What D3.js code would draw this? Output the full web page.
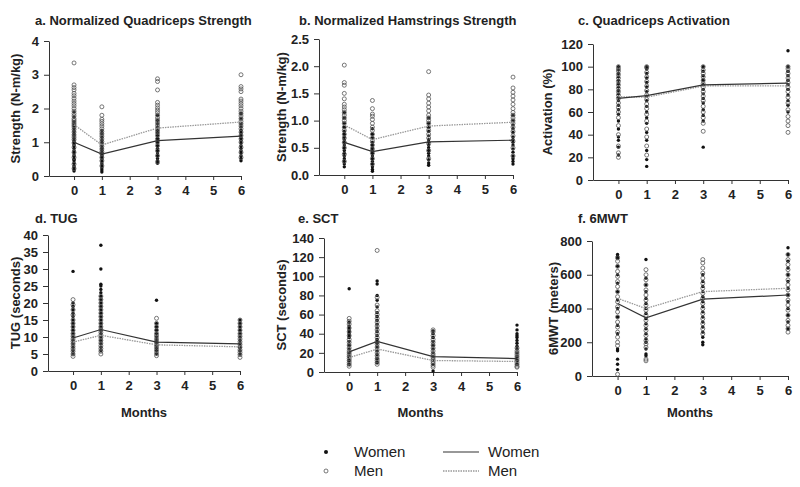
<!DOCTYPE html>
<html>
<head>
<meta charset="utf-8">
<script src="https://cdn.jsdelivr.net/npm/d3@7"></script>
<style>
  body { margin: 0; background: #fff; }
  svg { font-family: "Liberation Sans", Arial, sans-serif; }
  .tick text { font-weight: bold; font-size: 13px; fill: #222; }
  .domain, .tick line { stroke: #333; }
</style>
</head>
<body>
<svg id="chart" width="800" height="487"></svg>
<script>
// visit months on the x axis
var months = [0, 1, 3, 6];
var xTicks = [0, 1, 2, 3, 4, 5, 6];

// a. quadriceps strength (N-m/kg) -- one list per visit
var quadWomen = [
  [0.15,0.2,0.25,0.3,0.38,0.45,0.5,0.58,0.62,0.7,0.75,0.82,0.9,0.95,1.0,1.05,1.12,1.2,1.25,1.32,1.4,1.48,1.55,1.62,1.75,1.9],
  [0.12,0.18,0.24,0.3,0.36,0.42,0.48,0.55,0.6,0.65,0.7,0.76,0.82,0.9,0.98,1.05,1.15,1.25,1.35],
  [0.38,0.45,0.52,0.6,0.68,0.75,0.82,0.9,0.98,1.05,1.12,1.2,1.28,1.35,1.45,1.55,1.65,1.8],
  [0.45,0.52,0.6,0.68,0.75,0.82,0.9,0.98,1.05,1.12,1.2,1.28,1.35,1.45,1.55,1.7,1.85]
];
var quadMen = [
  [0.22,0.35,0.55,0.7,0.85,0.98,1.08,1.15,1.22,1.3,1.38,1.45,1.5,1.55,1.6,1.65,1.7,1.78,1.85,1.92,2.0,2.08,2.15,2.22,2.3,2.38,2.45,2.55,2.62,2.7,3.35],
  [0.3,0.45,0.55,0.65,0.72,0.8,0.88,0.95,1.02,1.1,1.18,1.25,1.32,1.4,1.48,1.55,1.62,1.68,1.8,2.05],
  [0.42,0.6,0.75,0.9,1.0,1.1,1.2,1.28,1.35,1.42,1.5,1.58,1.65,1.72,1.8,1.88,1.95,2.02,2.1,2.18,2.55,2.8,2.88],
  [0.55,0.7,0.85,1.0,1.1,1.2,1.3,1.4,1.48,1.55,1.62,1.7,1.78,1.85,1.92,2.0,2.08,2.15,2.22,2.28,2.5,2.58,2.65,3.0]
];
var quadWomenMean = [1.0, 0.65, 1.05, 1.18];
var quadMenMean = [1.52, 0.92, 1.42, 1.6];

// b. hamstrings strength (N-m/kg)
var hamWomen = [
  [0.15,0.2,0.25,0.3,0.35,0.4,0.45,0.5,0.55,0.6,0.65,0.7,0.75,0.8,0.88,0.95,1.05,1.15],
  [0.07,0.1,0.15,0.2,0.25,0.3,0.35,0.4,0.45,0.5,0.55,0.6,0.68,0.75,0.85],
  [0.18,0.22,0.28,0.35,0.4,0.45,0.5,0.55,0.6,0.65,0.72,0.8,0.88,0.95,1.05],
  [0.2,0.25,0.3,0.35,0.42,0.48,0.55,0.6,0.65,0.7,0.78,0.85,0.92,1.0,1.1]
];
var hamMen = [
  [0.25,0.38,0.5,0.6,0.68,0.75,0.82,0.88,0.95,1.0,1.05,1.1,1.15,1.2,1.25,1.3,1.4,1.5,1.65,1.7,2.02],
  [0.2,0.3,0.4,0.48,0.55,0.62,0.68,0.75,0.82,0.88,0.95,1.02,1.08,1.12,1.22,1.37],
  [0.3,0.45,0.58,0.68,0.75,0.82,0.88,0.95,1.0,1.05,1.1,1.18,1.25,1.32,1.4,1.47,1.9],
  [0.35,0.5,0.62,0.72,0.8,0.88,0.95,1.0,1.05,1.1,1.15,1.22,1.3,1.38,1.45,1.52,1.6,1.8]
];
var hamWomenMean = [0.6, 0.43, 0.61, 0.64];
var hamMenMean = [0.92, 0.65, 0.9, 0.97];

// c. quadriceps activation (%)
var actWomen = [
  [22,29,35,38,45,52,58,62,66,70,73,76,79,82,85,88,91,94,97,100],
  [12,18,26,35,42,50,55,60,65,70,74,78,82,86,90,94,98,100],
  [29,52,57,62,68,72,76,80,84,88,92,96,100],
  [60,66,70,75,80,84,88,92,96,100,114]
];
var actMen = [
  [20,24,30,40,48,55,60,64,68,72,75,78,81,84,87,90,93,96,98,100],
  [22,30,38,45,52,58,63,67,71,75,79,83,87,91,95,99,100],
  [43,50,55,60,65,70,74,78,82,85,88,91,94,97,100],
  [42,48,52,56,62,68,73,78,82,86,90,94,98,100]
];
var actWomenMean = [72, 74.5, 84, 85.5];
var actMenMean = [73.5, 73, 83, 83];

// d. TUG (seconds)
var tugWomen = [
  [5,6,7,8,9,10,11,12,13,14,15,16,17,18,19,20,29.3],
  [6,7,8,9,10,11,12,13,14,15,16,17,18,19,20,21,22,23,24,25,25.5,30,37],
  [5,6,6.8,7.6,8.4,9.2,10,11,12,13,14,20.8],
  [5,6,7,8,9,10,11,12,13,14,15]
];
var tugMen = [
  [4.3,5,5.8,6.5,7.2,8,8.7,9.4,10.2,11,12,13,14,15,16.5,18,19.5,21],
  [5,5.8,6.6,7.4,8.2,9,9.8,10.6,11.4,12.2,13,14,15,16,17,18,19,20,21,22],
  [4.5,5.2,6,6.7,7.4,8.1,8.8,9.5,10.3,11,12,13,14,15.5],
  [4,4.8,5.5,6.2,7,7.8,8.6,9.4,10.2,11,12,13,14,15]
];
var tugWomenMean = [9.7, 12.2, 8.5, 8.0];
var tugMenMean = [8.5, 10.5, 7.7, 7.1];

// e. SCT (seconds)
var sctWomen = [
  [8,12,16,20,24,28,32,36,38,40,42,44,46,48,52,87],
  [10,14,18,22,26,30,34,38,42,46,50,54,58,62,68,75,80,92,95],
  [1,8,12,16,20,24,28,32,36,40,43],
  [8,12,16,20,24,27,30,33,36,38,40,44,49]
];
var sctMen = [
  [6,8,10,12,14,16,18,20,22,25,28,31,34,38,42,46,50,53,56],
  [8,10,12,14,17,20,23,26,29,32,36,40,44,48,52,56,60,64,70,78,127],
  [5,7,9,11,13,15,17,19,22,25,28,31,34,38,42,44],
  [5,6,8,10,12,14,16,18,20,22,25]
];
var sctWomenMean = [21, 32, 16, 14];
var sctMenMean = [15, 24, 12, 11];

// f. 6MWT (meters)
var mwtWomen = [
  [38,70,100,150,160,250,300,350,400,450,500,550,600,650,700,710,720],
  [120,130,160,200,220,250,280,310,340,370,400,430,460,500,540,580,690],
  [185,200,230,260,290,320,350,380,410,440,470,500,530,560,600],
  [280,320,360,400,440,480,520,560,600,640,680,720,760]
];
var mwtMen = [
  [10,180,200,230,260,290,320,350,380,410,440,470,500,530,560,590,620,650,680,700],
  [90,100,170,190,210,240,270,300,330,360,390,420,450,480,510,540,570,600,630],
  [250,280,310,340,370,400,430,460,490,520,550,580,610,640,670,690],
  [260,280,300,330,360,390,420,450,480,510,540,570,600,630,660,690,720]
];
var mwtWomenMean = [430, 345, 455, 480];
var mwtMenMean = [460, 400, 500, 520];

// panel layout (pixel box of each plot area)
var panels = [
  { title: "a.  Normalized Quadriceps Strength", ylab: "Strength (N-m/kg)", women: quadWomen, men: quadMen, wm: quadWomenMean, mm: quadMenMean,
    yTicks: [0,1,2,3,4], fmt: d3.format("d"), x0: 49, x1: 241, yTop: 41, yBot: 176, tx: 35, ty: 25, lx: 15, months: false },
  { title: "b.  Normalized Hamstrings Strength", ylab: "Strength (N-m/kg)", women: hamWomen, men: hamMen, wm: hamWomenMean, mm: hamMenMean,
    yTicks: [0,0.5,1,1.5,2,2.5], fmt: d3.format(".1f"), x0: 319, x1: 513, yTop: 39, yBot: 175, tx: 299, ty: 25, lx: 281, months: false },
  { title: "c.  Quadriceps Activation", ylab: "Activation (%)", women: actWomen, men: actMen, wm: actWomenMean, mm: actMenMean,
    yTicks: [0,20,40,60,80,100,120], fmt: d3.format("d"), x0: 593, x1: 788, yTop: 44, yBot: 180, tx: 578, ty: 25, lx: 547, months: false },
  { title: "d.  TUG", ylab: "TUG (seconds)", women: tugWomen, men: tugMen, wm: tugWomenMean, mm: tugMenMean,
    yTicks: [0,5,10,15,20,25,30,35,40], fmt: d3.format("d"), x0: 48, x1: 240, yTop: 235, yBot: 371, tx: 35, ty: 223, lx: 15, months: true },
  { title: "e. SCT", ylab: "SCT (seconds)", women: sctWomen, men: sctMen, wm: sctWomenMean, mm: sctMenMean,
    yTicks: [0,20,40,60,80,100,120,140], fmt: d3.format("d"), x0: 324, x1: 517, yTop: 238, yBot: 372, tx: 298, ty: 223, lx: 281, months: true },
  { title: "f.  6MWT", ylab: "6MWT (meters)", women: mwtWomen, men: mwtMen, wm: mwtWomenMean, mm: mwtMenMean,
    yTicks: [0,200,400,600,800], fmt: d3.format("d"), x0: 592, x1: 788, yTop: 241, yBot: 376, tx: 578, ty: 223, lx: 553, months: true }
];

var svg = d3.select("#chart");

panels.forEach(function(p) {
  var x = d3.scaleLinear().domain([-0.9, 6]).range([p.x0, p.x1]);
  var y = d3.scaleLinear().domain([0, p.yTicks[p.yTicks.length - 1]]).range([p.yBot, p.yTop]);
  var g = svg.append("g");

  // axes
  g.append("g").attr("transform", "translate(" + p.x0 + ",0)")
    .call(d3.axisLeft(y).tickValues(p.yTicks).tickFormat(p.fmt).tickSize(5).tickPadding(5).tickSizeOuter(0));
  g.append("g").attr("transform", "translate(0," + p.yBot + ")")
    .call(d3.axisBottom(x).tickValues(xTicks).tickFormat(d3.format("d")).tickSize(4).tickPadding(6).tickSizeOuter(0));

  // scatter: women filled dots underneath, men open rings on top
  months.forEach(function(m, i) {
    g.selectAll(null).data(p.women[i]).enter().append("circle")
      .attr("cx", x(m)).attr("cy", function(d) { return y(d); })
      .attr("r", 1.7).attr("fill", "#111");
    g.selectAll(null).data(p.men[i]).enter().append("circle")
      .attr("cx", x(m)).attr("cy", function(d) { return y(d); })
      .attr("r", 2).attr("fill", "none").attr("stroke", "#555").attr("stroke-width", 0.8);
  });

  // mean lines
  var line = d3.line().x(function(d, i) { return x(months[i]); }).y(function(d) { return y(d); });
  g.append("path").datum(p.mm).attr("d", line).attr("fill", "none")
    .attr("stroke", "#999").attr("stroke-width", 1.3).attr("stroke-dasharray", "1.5,1");
  g.append("path").datum(p.wm).attr("d", line).attr("fill", "none")
    .attr("stroke", "#333").attr("stroke-width", 1.2);

  // titles and labels
  g.append("text").attr("x", p.tx).attr("y", p.ty).text(p.title)
    .attr("font-weight", "bold").attr("font-size", 13).attr("fill", "#222");
  g.append("text").attr("transform", "translate(" + p.lx + "," + (p.yTop + p.yBot) / 2 + ") rotate(-90)")
    .attr("text-anchor", "middle").attr("dy", "0.35em").text(p.ylab)
    .attr("font-weight", "bold").attr("font-size", 13).attr("fill", "#222");
  if (p.months) {
    g.append("text").attr("x", (p.x0 + p.x1) / 2).attr("y", 417).attr("text-anchor", "middle").text("Months")
      .attr("font-weight", "bold").attr("font-size", 13).attr("fill", "#222");
  }
});

// legend
var legend = svg.append("g").attr("font-size", 15).attr("fill", "#222");
legend.append("circle").attr("cx", 326).attr("cy", 452).attr("r", 2).attr("fill", "#111");
legend.append("circle").attr("cx", 326).attr("cy", 471).attr("r", 2).attr("fill", "#fff").attr("stroke", "#555").attr("stroke-width", 0.8);
legend.append("text").attr("x", 354).attr("y", 457).text("Women");
legend.append("text").attr("x", 354).attr("y", 476).text("Men");
legend.append("line").attr("x1", 443).attr("x2", 479).attr("y1", 452).attr("y2", 452).attr("stroke", "#333").attr("stroke-width", 1.2);
legend.append("line").attr("x1", 443).attr("x2", 479).attr("y1", 471).attr("y2", 471).attr("stroke", "#999").attr("stroke-width", 1.3).attr("stroke-dasharray", "1.5,1");
legend.append("text").attr("x", 488).attr("y", 457).text("Women");
legend.append("text").attr("x", 488).attr("y", 476).text("Men");
</script>
</body>
</html>
